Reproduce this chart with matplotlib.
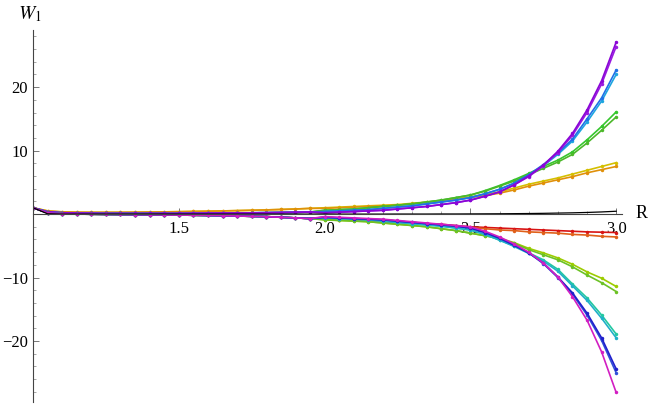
import numpy as np
import matplotlib.pyplot as plt

# R grid, step 0.05 from 1.0 to 3.0
R = np.round(np.arange(1.0, 3.0001, 0.05), 2)

# values (1.0..1.95 | 2.0..3.0)
up_left = [1.0, 0.35, 0.2, 0.15, 0.12, 0.1, 0.1, 0.1, 0.1, 0.1,
           0.1, 0.12, 0.14, 0.16, 0.18, 0.2, 0.22, 0.25, 0.28, 0.32]
yel_left = [1.0, 0.5, 0.35, 0.3, 0.28, 0.28, 0.28, 0.3, 0.32, 0.35,
            0.38, 0.42, 0.46, 0.5, 0.55, 0.6, 0.66, 0.73, 0.8, 0.9]
dn_left = [1.0, 0.2, 0.05, 0.0, -0.02, -0.04, -0.06, -0.08, -0.1, -0.12,
           -0.15, -0.18, -0.21, -0.25, -0.3, -0.35, -0.4, -0.5, -0.6, -0.7]

purple1 = up_left + [0.2, 0.3, 0.4, 0.5, 0.6, 0.8, 1.0, 1.2, 1.5, 1.8, 2.2, 2.8, 3.5, 4.6, 6.0, 7.7, 9.9, 12.7, 16.4, 21.0, 27.1]
purple2 = up_left + [0.2, 0.3, 0.4, 0.5, 0.6, 0.8, 1.0, 1.2, 1.5, 1.8, 2.2, 2.8, 3.5, 4.6, 5.9, 7.6, 9.7, 12.4, 16.0, 20.5, 26.4]
blue1 = up_left + [0.4, 0.5, 0.6, 0.7, 0.9, 1.1, 1.3, 1.6, 1.9, 2.2, 2.6, 3.2, 3.9, 4.9, 6.2, 7.8, 9.6, 11.8, 15.0, 18.3, 22.7]
blue2 = up_left + [0.4, 0.5, 0.6, 0.7, 0.9, 1.1, 1.3, 1.6, 1.9, 2.2, 2.6, 3.2, 3.9, 4.8, 6.1, 7.6, 9.4, 11.5, 14.5, 17.8, 22.0]
green1 = up_left + [0.6, 0.7, 0.8, 1.0, 1.2, 1.4, 1.6, 1.9, 2.2, 2.6, 3.0, 3.7, 4.5, 5.4, 6.4, 7.5, 8.5, 9.8, 11.7, 13.8, 16.1]
green2 = up_left + [0.6, 0.7, 0.8, 1.0, 1.2, 1.4, 1.6, 1.9, 2.2, 2.6, 3.0, 3.6, 4.4, 5.2, 6.2, 7.2, 8.2, 9.4, 11.2, 13.2, 15.3]
yellow = yel_left + [1.0, 1.1, 1.2, 1.3, 1.4, 1.5, 1.7, 1.9, 2.1, 2.4, 2.7, 3.1, 3.5, 4.1, 4.7, 5.2, 5.7, 6.3, 6.9, 7.5, 8.1]
orange = yel_left + [0.9, 1.0, 1.1, 1.2, 1.3, 1.4, 1.6, 1.8, 2.0, 2.3, 2.6, 2.9, 3.3, 3.8, 4.4, 4.9, 5.4, 5.9, 6.5, 7.0, 7.5]
black = [1.0, 0.05, 0.0, 0.0, 0.0, 0.0, 0.0, 0.0, 0.0, 0.0,
         0.0, 0.0, 0.0, 0.0, 0.0, 0.0, 0.0, 0.0, 0.0, 0.0,
         0.0, 0.0, 0.0, 0.0, 0.0, 0.01, 0.01, 0.01, 0.02, 0.02,
         0.03, 0.04, 0.05, 0.07, 0.09, 0.12, 0.16, 0.2, 0.26, 0.34, 0.45]
red = dn_left + [-0.8, -0.9, -1.0, -1.1, -1.2, -1.3, -1.4, -1.5, -1.6, -1.8, -2.0, -2.1, -2.2, -2.3, -2.4, -2.5, -2.6, -2.7, -2.8, -2.85, -2.9]
redorange = dn_left + [-0.8, -0.9, -1.0, -1.1, -1.2, -1.3, -1.4, -1.5, -1.7, -1.9, -2.1, -2.3, -2.5, -2.6, -2.8, -2.9, -3.0, -3.2, -3.3, -3.5, -3.6]
ygreen1 = dn_left + [-0.9, -1.0, -1.1, -1.2, -1.4, -1.6, -1.8, -2.0, -2.3, -2.6, -3.0, -3.4, -3.8, -4.5, -5.4, -6.1, -6.9, -7.9, -9.1, -10.1, -11.4]
ygreen2 = dn_left + [-0.9, -1.0, -1.1, -1.2, -1.4, -1.6, -1.8, -2.0, -2.3, -2.6, -3.0, -3.4, -3.9, -4.6, -5.6, -6.4, -7.2, -8.3, -9.6, -10.8, -12.2]
teal1 = dn_left + [-0.6, -0.7, -0.8, -0.9, -1.1, -1.3, -1.5, -1.7, -1.9, -2.2, -2.5, -3.2, -4.1, -5.0, -6.1, -7.2, -8.7, -11.0, -13.2, -15.9, -18.9]
teal2 = dn_left + [-0.6, -0.7, -0.8, -0.9, -1.1, -1.3, -1.5, -1.7, -1.9, -2.2, -2.5, -3.2, -4.1, -5.1, -6.2, -7.4, -9.0, -11.3, -13.6, -16.4, -19.5]
blue3 = dn_left + [-0.5, -0.6, -0.7, -0.8, -0.9, -1.1, -1.3, -1.5, -1.7, -1.9, -2.2, -2.9, -3.8, -4.9, -6.1, -7.7, -9.9, -12.4, -15.6, -19.5, -24.4]
blue4 = dn_left + [-0.5, -0.6, -0.7, -0.8, -0.9, -1.1, -1.3, -1.5, -1.7, -1.9, -2.2, -2.9, -3.8, -4.9, -6.1, -7.8, -10.0, -12.6, -15.9, -19.9, -25.0]
magenta = dn_left + [-0.4, -0.5, -0.6, -0.7, -0.8, -1.0, -1.2, -1.4, -1.6, -1.8, -2.0, -2.7, -3.6, -4.7, -6.0, -7.7, -9.9, -13.0, -16.7, -21.7, -28.1]

series = [
    (yellow, '#d4bf00'), (orange, '#e0900a'),
    (green1, '#35c72d'), (green2, '#4cb82a'),
    (blue2, '#1ea6df'), (blue1, '#1f70e6'),
    (purple2, '#9a1be0'), (purple1, '#8a05d6'),
    (red, '#d81414'), (redorange, '#e0601a'),
    (ygreen1, '#9ccc00'), (ygreen2, '#6cc225'),
    (teal1, '#22c8a0'), (teal2, '#20b0c8'),
    (blue4, '#3050d8'), (blue3, '#2020cc'),
    (magenta, '#d21ec2'),
]

plt.rcParams['font.family'] = 'Liberation Serif'
plt.rcParams['mathtext.fontset'] = 'stix'
fig = plt.figure(figsize=(6.54, 4.05), dpi=100)
ax = fig.add_axes([33 / 654, 3 / 405, 589 / 654, 372 / 405])

for vals, col in series:
    ax.plot(R, vals, color=col, lw=1.2, marker='o', ms=2.5, mew=0)
ax.plot(R, black, color='black', lw=0.9)

ax.set_xlim(1.0, 3.02)
ax.set_ylim(-29.6, 29.0)
ax.spines['left'].set_position(('data', 1.0))
ax.spines['bottom'].set_position(('data', 0))
ax.spines['top'].set_visible(False)
ax.spines['right'].set_visible(False)
for s in ('left', 'bottom'):
    ax.spines[s].set_color('#444444')
    ax.spines[s].set_linewidth(0.8)
ax.set_xticks([1.5, 2.0, 2.5, 3.0])
ax.set_xticks(np.arange(1.1, 3.01, 0.1), minor=True)
ax.set_yticks([-20, -10, 10, 20])
ax.set_yticks(np.arange(-28, 29, 2), minor=True)
ax.tick_params(direction='in', length=4, width=0.7, color='#777777', labelsize=12)
ax.tick_params(which='minor', direction='in', length=2, width=0.6, color='#999999')
ax.tick_params(axis='x', pad=5)
ax.set_yticklabels(['\u221220', '\u221210', '10', '20'])

fig.text(636 / 654, 1 - 214 / 405, 'R', fontsize=13, va='center', ha='left')
fig.text(30 / 654, 1 - 14 / 405, '$W_1$', fontsize=14, va='center', ha='center')

fig.savefig('out.png', dpi=100)
